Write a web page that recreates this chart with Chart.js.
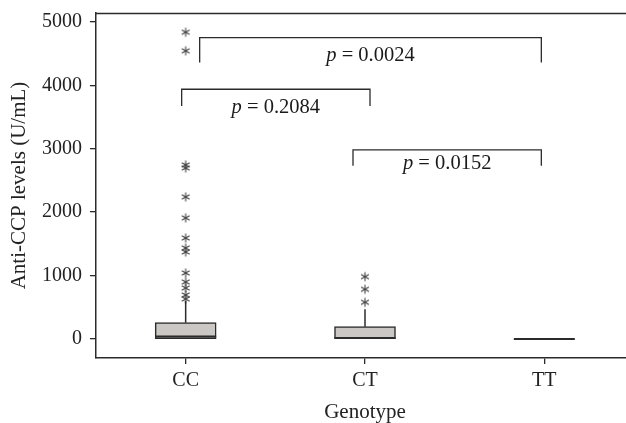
<!DOCTYPE html>
<html><head><meta charset="utf-8">
<script src="https://cdn.jsdelivr.net/npm/chart.js@4/dist/chart.umd.min.js"></script>
<style>html,body{margin:0;padding:0;overflow:hidden;background:#fff}canvas{display:block}</style>
</head><body><canvas id="c" width="640" height="423"></canvas>
<script>
// ---- data ----
const genotypes = ['CC', 'CT', 'TT'];
const q1 = [5, 3, 0];
const medians = [40, 15, 0];
const q3 = [257, 194, 0];
const whiskerHigh = [600, 470, 0];
const outliersCC = [4837, 4543, 2744, 2697, 2240, 1909, 1593, 1435, 1372, 1041, 899, 804, 694, 631];
const outliersCT = [983, 784, 579];
const outliersTT = [];
const yTicks = [0, 1000, 2000, 3000, 4000, 5000];
const pValues = ['0.0024', '0.2084', '0.0152'];
const pairFrom = [0, 0, 1];
const pairTo = [2, 1, 2];
const bracketTop = [4752, 3938, 2981];
const bracketLegEnd = [4358, 3675, 2733];
const pLabelY = [4464, 3651, 2760];

const INK = '#2b2b2b';
const FAM = '"Liberation Serif", "Times New Roman", serif';
Chart.defaults.font.family = FAM;
Chart.defaults.font.size = 20;
Chart.defaults.color = '#222';

function makeAsterisk() {
  const s = 12, c = document.createElement('canvas');
  c.width = s; c.height = s;
  const g = c.getContext('2d');
  g.strokeStyle = '#444'; g.lineWidth = 1.1;
  const r = 4.5, cx = s / 2, cy = s / 2;
  for (let k = 0; k < 3; k++) {
    const a = Math.PI / 2 + k * Math.PI / 3;
    g.beginPath();
    g.moveTo(cx + r * Math.cos(a), cy + r * Math.sin(a));
    g.lineTo(cx - r * Math.cos(a), cy - r * Math.sin(a));
    g.stroke();
  }
  return c;
}
const star = makeAsterisk();
const outlierSets = [outliersCC, outliersCT, outliersTT];

const boxPlugin = {
  id: 'boxExtras',
  afterDatasetsDraw(chart) {
    const ctx = chart.ctx, xs = chart.scales.x, ys = chart.scales.y;
    const meta = chart.getDatasetMeta(0);
    ctx.save();
    ctx.strokeStyle = INK;
    meta.data.forEach((bar, i) => {
      const cx = bar.x, half = bar.width / 2;
      ctx.lineWidth = 1.5;
      ctx.beginPath();
      ctx.moveTo(cx, ys.getPixelForValue(q3[i]));
      ctx.lineTo(cx, ys.getPixelForValue(whiskerHigh[i]));
      ctx.stroke();
      ctx.lineWidth = 2;
      ctx.beginPath();
      ctx.moveTo(cx - half, ys.getPixelForValue(medians[i]));
      ctx.lineTo(cx + half, ys.getPixelForValue(medians[i]));
      ctx.stroke();
    });
    const a = chart.chartArea;
    ctx.lineWidth = 1.5;
    ctx.beginPath();
    ctx.moveTo(a.left, a.top + 0.5);
    ctx.lineTo(a.right, a.top + 0.5);
    ctx.stroke();
    const adj = [[14, -3], [-4, 5], [-12, -3]];
    ctx.lineWidth = 1.3;
    const FS = 20.5;
    pValues.forEach((p, k) => {
      const xl = xs.getPixelForValue(pairFrom[k] + 1) + adj[k][0];
      const xr = xs.getPixelForValue(pairTo[k] + 1) + adj[k][1];
      const yt = ys.getPixelForValue(bracketTop[k]);
      const yb = ys.getPixelForValue(bracketLegEnd[k]);
      ctx.beginPath();
      ctx.moveTo(xl, yb); ctx.lineTo(xl, yt); ctx.lineTo(xr, yt); ctx.lineTo(xr, yb);
      ctx.stroke();
      const ty = ys.getPixelForValue(pLabelY[k]);
      ctx.font = 'italic ' + FS + 'px ' + FAM;
      const w1 = ctx.measureText('p').width;
      ctx.font = FS + 'px ' + FAM;
      const rest = ' = ' + p;
      const w2 = ctx.measureText(rest).width;
      const x0 = (xl + xr) / 2 - (w1 + w2) / 2;
      ctx.fillStyle = '#1a1a1a';
      ctx.textBaseline = 'middle';
      ctx.textAlign = 'left';
      ctx.font = 'italic ' + FS + 'px ' + FAM;
      ctx.fillText('p', x0, ty);
      ctx.font = FS + 'px ' + FAM;
      ctx.fillText(rest, x0 + w1, ty);
    });
    ctx.restore();
  }
};

new Chart(document.getElementById('c'), {
  type: 'bar',
  data: {
    datasets: [
      {
        type: 'bar',
        data: genotypes.map((g, i) => ({ x: i + 1, y: [q1[i], q3[i]] })),
        backgroundColor: '#cbc7c5',
        borderColor: INK,
        borderWidth: 1.5,
        borderSkipped: false,
        barThickness: 61
      },
      ...outlierSets.map((set, i) => ({
        type: 'scatter',
        data: set.map(v => ({ x: i + 1, y: v })),
        pointStyle: star,
        pointRadius: 5,
        showLine: false
      }))
    ]
  },
  options: {
    responsive: false,
    animation: false,
    layout: { padding: { top: 13, right: 0, left: 0, bottom: 0 } },
    plugins: { legend: { display: false }, tooltip: { enabled: false } },
    scales: {
      x: {
        type: 'linear', min: 0.5, max: 3.5, offset: false,
        afterBuildTicks: s => { s.ticks = genotypes.map((g, i) => ({ value: i + 1 })); },
        afterFit: s => { s.height = 65; },
        ticks: { callback: v => genotypes[v - 1], padding: 5, color: '#222', font: { size: 20 }, maxRotation: 0 },
        grid: { offset: false, drawOnChartArea: false, drawTicks: true, tickLength: 6, color: INK, lineWidth: 1.3 },
        border: { display: true, color: INK, width: 1.5 },
        title: { display: true, text: 'Genotype', padding: { top: 0, bottom: 0 }, font: { size: 21, lineHeight: 1.0 }, color: '#222' }
      },
      y: {
        type: 'linear', min: -300, max: 5140,
        afterBuildTicks: s => { s.ticks = yTicks.map(v => ({ value: v })); },
        afterFit: s => { s.width = 96; },
        ticks: { callback: v => String(v), padding: 8, color: '#222', font: { size: 20, lineHeight: 0.5 } },
        grid: { drawOnChartArea: false, drawTicks: true, tickLength: 6, color: INK, lineWidth: 1.3 },
        border: { display: true, color: INK, width: 1.5 },
        title: { display: true, text: 'Anti-CCP levels (U/mL)', padding: { top: 7, bottom: 0 }, font: { size: 21 }, color: '#222' }
      }
    }
  },
  plugins: [boxPlugin]
});
</script></body></html>
